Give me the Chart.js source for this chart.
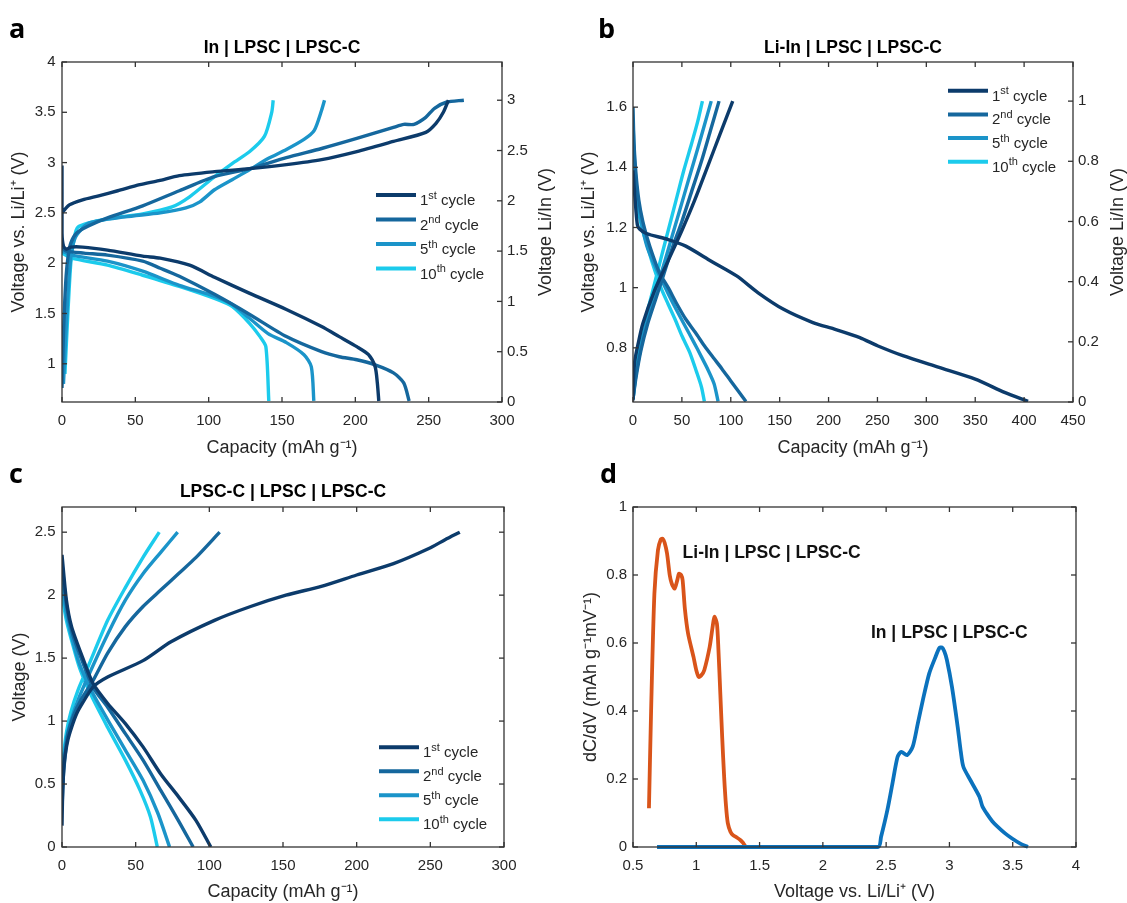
<!DOCTYPE html>
<html>
<head>
<meta charset="utf-8">
<script src="https://cdn.jsdelivr.net/npm/chart.js@4/dist/chart.umd.min.js"></script>
<style>
  body { margin: 0; background: #fff; width: 1127px; height: 903px; position: relative; overflow: hidden; }
  canvas { position: absolute; }
</style>
</head>
<body>
<canvas id="pa" width="563" height="460" style="left:0;top:0"></canvas>
<canvas id="pb" width="564" height="460" style="left:563px;top:0"></canvas>
<canvas id="pc" width="563" height="443" style="left:0;top:460px"></canvas>
<canvas id="pd" width="564" height="443" style="left:563px;top:460px"></canvas>
<script>
// ---- data (capacity mAh/g, voltage V) ----
// panel a : In | LPSC | LPSC-C
var aCh1 = [[0,2.50],[5,2.58],[14,2.63],[25,2.67],[38,2.72],[53,2.78],[66,2.82],[80,2.87],[104,2.91],[128,2.94],[153,2.98],[177,3.03],[201,3.11],[226,3.21],[248,3.30],[255,3.39],[260,3.50],[263.5,3.62]];
var aDis1 = [[0,2.97],[0,2.3],[1,2.17],[3,2.14],[6,2.16],[14,2.16],[31,2.13],[55,2.07],[67,2.05],[87,1.98],[104,1.86],[128,1.70],[153,1.54],[177,1.37],[189,1.27],[201,1.17],[209,1.09],[213.5,0.97],[215,0.81],[216,0.63]];
var aCh2 = [[0,0.76],[1,1.3],[2.5,1.8],[4,2.05],[6,2.2],[10,2.3],[18,2.37],[31,2.45],[55,2.57],[80,2.72],[104,2.86],[128,2.94],[153,3.05],[177,3.14],[201,3.24],[226,3.35],[233,3.38],[240,3.38],[248,3.45],[254,3.54],[262,3.60],[274,3.62]];
var aDis2 = [[0,2.15],[3,2.12],[15,2.10],[31,2.08],[55,2.02],[67,1.95],[80,1.87],[104,1.69],[128,1.49],[153,1.27],[177,1.12],[189,1.07],[201,1.04],[213.5,0.99],[226,0.91],[233,0.81],[236.7,0.63]];
var aCh5 = [[1,0.8],[3,1.4],[5,1.9],[7,2.15],[10,2.28],[18.7,2.40],[43,2.46],[67,2.50],[84.5,2.55],[94,2.61],[104,2.73],[116,2.83],[128,2.93],[140.5,3.04],[153,3.13],[165,3.23],[172,3.32],[177,3.52],[179,3.62]];
var aDis5 = [[0,2.12],[6.6,2.08],[31,2.02],[55,1.92],[80,1.78],[104,1.67],[116,1.59],[128,1.45],[140.5,1.30],[153,1.21],[165,1.09],[170,0.97],[171.7,0.63]];
var aCh10 = [[2,0.9],[4,1.5],[6,2.0],[8,2.22],[11,2.36],[31,2.44],[55,2.49],[75,2.56],[87,2.66],[104,2.86],[116,2.99],[128,3.11],[138,3.26],[143,3.50],[144,3.62]];
var aDis10 = [[0,2.10],[6.6,2.05],[31,1.98],[55,1.88],[80,1.77],[104,1.65],[116,1.57],[128,1.40],[135,1.27],[139,1.17],[141,0.63]];

// panel b : Li-In | LPSC | LPSC-C
var bCh1 = [[0,0.625],[0.5,0.70],[2,0.76],[5,0.81],[10,0.88],[22,0.99],[36,1.09],[50,1.19],[63,1.29],[76,1.40],[89,1.51],[102,1.62]];
var bDis1 = [[0,1.39],[2,1.30],[4.4,1.21],[6.7,1.195],[13.7,1.18],[36,1.16],[54,1.138],[80,1.088],[106,1.039],[128,0.983],[154,0.928],[184,0.884],[206,0.862],[232,0.834],[250,0.807],[276,0.774],[313,0.735],[350,0.696],[380,0.652],[404,0.622]];
var bCh2 = [[0,0.63],[3,0.70],[8,0.79],[15,0.88],[23,0.96],[31,1.04],[40,1.13],[50,1.22],[60,1.32],[70,1.42],[79,1.52],[88,1.62]];
var bDis2 = [[0,1.6],[1,1.48],[3,1.38],[6,1.29],[10,1.22],[15,1.16],[20,1.11],[27,1.05],[36,1.0],[45,0.945],[54,0.895],[64,0.85],[73,0.807],[82,0.768],[91,0.73],[100,0.69],[108,0.655],[115.5,0.622]];
var bCh5 = [[0,0.63],[3,0.71],[8,0.80],[14,0.89],[22,0.98],[30,1.06],[39,1.16],[48,1.26],[57,1.36],[66,1.46],[73,1.54],[80,1.62]];
var bDis5 = [[0,1.55],[2,1.40],[5,1.29],[9,1.21],[14,1.14],[20,1.09],[28.5,1.03],[36,0.98],[43,0.935],[52,0.88],[62,0.82],[70,0.77],[77,0.725],[83,0.68],[87,0.622]];
var bCh10 = [[0,0.63],[3,0.72],[8,0.82],[14,0.91],[21,1.00],[28,1.09],[36,1.19],[44,1.29],[52,1.39],[60,1.48],[66,1.55],[71,1.62]];
var bDis10 = [[0,1.5],[2,1.37],[5,1.27],[9,1.2],[13.7,1.15],[20,1.08],[28.5,1.0],[36,0.945],[43,0.895],[50,0.84],[58,0.785],[65,0.72],[70,0.67],[73,0.622]];

// panel c : LPSC-C | LPSC | LPSC-C
var cCh1 = [[0,0.17],[0.5,0.45],[1.7,0.69],[4,0.85],[6.5,0.95],[10,1.06],[13.8,1.14],[21,1.27],[31,1.35],[55,1.48],[74,1.63],[103.5,1.80],[128,1.91],[152,2.0],[176,2.07],[200,2.16],[225,2.25],[249,2.37],[260,2.44],[270,2.5]];
var cDis1 = [[0,2.32],[3,1.96],[6.5,1.75],[13.8,1.51],[21,1.30],[31,1.14],[43,0.98],[55,0.795],[67,0.58],[79,0.40],[91,0.21],[101,0.0]];
var cCh2 = [[0,0.3],[1,0.58],[2.5,0.76],[4,0.9],[8,1.05],[13,1.17],[21,1.32],[31,1.54],[43,1.75],[55,1.91],[67,2.04],[79,2.17],[91,2.30],[107,2.5]];
var cDis2 = [[0,2.25],[3,1.92],[7,1.70],[13,1.50],[21,1.27],[31,1.11],[43,0.90],[55,0.69],[67,0.45],[79,0.21],[89,0]];
var cCh5 = [[0,0.45],[1,0.65],[3,0.86],[6,1.0],[11,1.17],[18.7,1.38],[31,1.69],[43,1.96],[55,2.17],[67,2.34],[78.5,2.5]];
var cDis5 = [[0,2.1],[3,1.85],[7,1.65],[12,1.45],[20,1.24],[31,1.01],[43,0.77],[55,0.53],[65,0.27],[73,0]];
var cCh10 = [[0,0.55],[1,0.72],[3,0.91],[6,1.07],[11,1.25],[18.7,1.46],[31,1.80],[43,2.06],[55,2.30],[66,2.5]];
var cDis10 = [[0,2.0],[3,1.8],[7,1.62],[12,1.42],[20,1.2],[31,0.95],[43,0.69],[53,0.45],[60,0.24],[64.7,0]];

// panel d : dC/dV vs voltage
var dLiIn = [[0.626,0.114],[0.643,0.40],[0.669,0.745],[0.697,0.873],[0.72,0.905],[0.734,0.907],[0.75,0.895],[0.769,0.863],[0.79,0.80],[0.806,0.775],[0.829,0.76],[0.85,0.785],[0.863,0.804],[0.88,0.80],[0.892,0.785],[0.91,0.70],[0.935,0.628],[0.978,0.559],[1.0,0.52],[1.02,0.50],[1.04,0.505],[1.063,0.52],[1.106,0.589],[1.13,0.65],[1.143,0.677],[1.163,0.657],[1.175,0.58],[1.19,0.45],[1.205,0.32],[1.22,0.207],[1.235,0.12],[1.249,0.07],[1.27,0.045],[1.29,0.035],[1.32,0.028],[1.35,0.02],[1.37,0.012],[1.39,0]];
var dIn = [[0.69,0],[2.436,0],[2.46,0.03],[2.51,0.109],[2.55,0.187],[2.59,0.265],[2.62,0.28],[2.665,0.27],[2.71,0.295],[2.75,0.363],[2.79,0.432],[2.84,0.51],[2.89,0.559],[2.92,0.585],[2.94,0.587],[2.96,0.575],[2.98,0.55],[3.02,0.471],[3.065,0.354],[3.09,0.28],[3.11,0.236],[3.165,0.197],[3.237,0.148],[3.26,0.12],[3.294,0.099],[3.34,0.075],[3.38,0.06],[3.44,0.04],[3.495,0.025],[3.56,0.01],[3.62,0]];

// tick labels
var ticksCap300 = [0,50,100,150,200,250,300];
var ticksCap450 = [0,50,100,150,200,250,300,350,400,450];
var ticksA = [1,1.5,2,2.5,3,3.5,4];
var ticksA2 = [0,0.5,1,1.5,2,2.5,3];
var ticksB = [0.8,1,1.2,1.4,1.6];
var ticksB2 = [0,0.2,0.4,0.6,0.8,1];
var ticksC = [0,0.5,1,1.5,2,2.5];
var ticksDx = [0.5,1,1.5,2,2.5,3,3.5,4];
var ticksDy = [0,0.2,0.4,0.6,0.8,1];

var cycleNames = [['1','st'],['2','nd'],['5','th'],['10','th']];
var cycleColors = ['#0c3b6b','#15679d','#1b94c9','#1ccbec'];
var FONT = '"Liberation Sans", Arial, Helvetica, sans-serif';
var TXT = '#262626';

function pts(arr) { return arr.map(function(p){ return {x:p[0], y:p[1]}; }); }
function joined() {
  var out = [];
  for (var i = 0; i < arguments.length; i++) {
    if (i > 0) out.push({x:null, y:null});
    out = out.concat(pts(arguments[i]));
  }
  return out;
}
function fmt(v) { return String(+(+v).toFixed(2)); }

// frame, inward ticks, legend, right title, panel letter, notes
var decor = {
  id: 'decor',
  afterDraw: function(chart, args, o) {
    var ctx = chart.ctx, ca = chart.chartArea, tl = 5;
    ctx.save();
    ctx.strokeStyle = '#333';
    ctx.lineWidth = 1.3;
    function seg(x1,y1,x2,y2){ ctx.beginPath(); ctx.moveTo(x1,y1); ctx.lineTo(x2,y2); ctx.stroke(); }
    ctx.strokeRect(ca.left, ca.top, ca.right-ca.left, ca.bottom-ca.top);
    var xs = chart.scales.x, ys = chart.scales.y, y2 = chart.scales.y2;
    xs.ticks.forEach(function(t){ var p = xs.getPixelForValue(t.value); seg(p,ca.bottom,p,ca.bottom-tl); seg(p,ca.top,p,ca.top+tl); });
    ys.ticks.forEach(function(t){ var p = ys.getPixelForValue(t.value); seg(ca.left,p,ca.left+tl,p); if(!y2) seg(ca.right,p,ca.right-tl,p); });
    if (y2) y2.ticks.forEach(function(t){ var p = y2.getPixelForValue(t.value); seg(ca.right,p,ca.right-tl,p); });

    if (o.rightTitle) {
      ctx.save();
      ctx.translate(o.rightTitle.x, (ca.top+ca.bottom)/2);
      ctx.rotate(-Math.PI/2);
      ctx.font = '18px ' + FONT; ctx.fillStyle = TXT;
      ctx.textAlign = 'center'; ctx.textBaseline = 'middle';
      ctx.fillText(o.rightTitle.text, 0, 0);
      ctx.restore();
    }
    if (o.letter) {
      ctx.font = 'bold 27px "Open Sans", ' + FONT; ctx.fillStyle = '#000';
      ctx.textAlign = 'left'; ctx.textBaseline = 'alphabetic';
      ctx.fillText(o.letter.text, o.letter.x, o.letter.y);
    }
    if (o.legend) {
      var L = o.legend;
      chart.data.datasets.forEach(function(ds, i){
        var y = L.y + i*L.dy;
        ctx.strokeStyle = ds.borderColor; ctx.lineWidth = 4;
        seg(L.x, y, L.x+L.len, y);
        var parts = cycleNames[i], tx = L.x + L.len + 4, ty = y + 10;
        ctx.fillStyle = TXT; ctx.textAlign = 'left'; ctx.textBaseline = 'alphabetic';
        ctx.font = '15px ' + FONT;
        ctx.fillText(parts[0], tx, ty); tx += ctx.measureText(parts[0]).width;
        ctx.font = '11px ' + FONT;
        ctx.fillText(parts[1], tx, ty-6.5); tx += ctx.measureText(parts[1]).width;
        ctx.font = '15px ' + FONT;
        ctx.fillText(' cycle', tx, ty);
      });
    }
    if (o.notes) {
      ctx.font = 'bold 17.5px ' + FONT; ctx.fillStyle = '#111';
      ctx.textAlign = 'left'; ctx.textBaseline = 'middle';
      o.notes.forEach(function(n){ ctx.fillText(n.text, xs.getPixelForValue(n.x), ys.getPixelForValue(n.y)); });
    }
    ctx.restore();
  }
};

function axis(opts) {
  var s = {
    type: 'linear', position: opts.position, min: opts.min, max: opts.max,
    grid: { display: false, drawTicks: false }, border: { display: false },
    afterBuildTicks: function(sc){ sc.ticks = opts.ticks.map(function(v){ return {value:v}; }); },
    ticks: { font: { family: FONT, size: 15 }, color: TXT, padding: opts.pad, callback: fmt },
    title: { display: !!opts.title, text: opts.title, font: { family: FONT, size: 18 }, color: TXT, padding: opts.titlePad || {top:4,bottom:4} }
  };
  if (opts.w !== undefined) s.afterFit = function(sc){ sc.width = opts.w; };
  if (opts.h !== undefined) s.afterFit = function(sc){ sc.height = opts.h; };
  return s;
}

function cycleSets(list, width) {
  return list.map(function(d, i){
    return { data: d, borderColor: cycleColors[i], borderWidth: width, pointRadius: 0, tension: 0.25, spanGaps: false, fill: false };
  });
}

function make(id, cfg) {
  return new Chart(document.getElementById(id), {
    type: 'line',
    data: { datasets: cfg.datasets },
    options: {
      responsive: false, animation: false, events: [],
      layout: { padding: cfg.padding },
      plugins: { legend: { display: false }, tooltip: { enabled: false }, title: cfg.title || { display: false }, decor: cfg.decor },
      scales: cfg.scales
    },
    plugins: [decor]
  });
}

function titleCfg(text, top, bottom) {
  return { display: true, text: text, fullSize: false, position: 'top', color: '#000',
    font: { family: FONT, size: 17.5, weight: 'bold' }, padding: { top: top, bottom: bottom } };
}

// panel a
make('pa', {
  datasets: cycleSets([joined(aCh1, aDis1), joined(aCh2, aDis2), joined(aCh5, aDis5), joined(aCh10, aDis10)], 3.4),
  padding: { left: 0, right: 0, top: 0, bottom: 0 },
  title: titleCfg('In | LPSC | LPSC-C', 37.8, 3.2),
  decor: { letter: { text: 'a', x: 9, y: 38 }, rightTitle: { text: 'Voltage Li/In (V)', x: 546 }, legend: { x: 376, y: 195, dy: 24.5, len: 40 } },
  scales: {
    x: axis({ position: 'bottom', min: 0, max: 300, ticks: ticksCap300, pad: 10, h: 58, title: 'Capacity (mAh g\u207B\u00B9)', titlePad: { top: 0, bottom: 1 } }),
    y: axis({ position: 'left', min: 0.62, max: 4, ticks: ticksA, pad: 6.5, w: 62, title: 'Voltage vs. Li/Li\u207A (V)', titlePad: { top: 7.8, bottom: 0 } }),
    y2: axis({ position: 'right', min: 0, max: 3.38, ticks: ticksA2, pad: 5, w: 61 })
  }
});

// panel b
make('pb', {
  datasets: cycleSets([joined(bCh1, bDis1), joined(bCh2, bDis2), joined(bCh5, bDis5), joined(bCh10, bDis10)], 3.4),
  padding: { left: 0, right: 0, top: 0, bottom: 0 },
  title: titleCfg('Li-In | LPSC | LPSC-C', 37.8, 3.2),
  decor: { letter: { text: 'b', x: 35, y: 38 }, rightTitle: { text: 'Voltage Li/In (V)', x: 555 }, legend: { x: 385, y: 90.7, dy: 23.7, len: 40 } },
  scales: {
    x: axis({ position: 'bottom', min: 0, max: 450, ticks: ticksCap450, pad: 10, h: 58, title: 'Capacity (mAh g\u207B\u00B9)', titlePad: { top: 0, bottom: 1 } }),
    y: axis({ position: 'left', min: 0.62, max: 1.75, ticks: ticksB, pad: 6, w: 70, title: 'Voltage vs. Li/Li\u207A (V)', titlePad: { top: 15.2, bottom: 0 } }),
    y2: axis({ position: 'right', min: 0, max: 1.13, ticks: ticksB2, pad: 5, w: 54 })
  }
});

// panel c
make('pc', {
  datasets: cycleSets([joined(cCh1, cDis1), joined(cCh2, cDis2), joined(cCh5, cDis5), joined(cCh10, cDis10)], 3.4),
  padding: { left: 0, right: 59, top: 0, bottom: 0 },
  title: titleCfg('LPSC-C | LPSC | LPSC-C', 21.5, 4.5),
  decor: { letter: { text: 'c', x: 9, y: 23 }, legend: { x: 379, y: 287.3, dy: 24, len: 40 } },
  scales: {
    x: axis({ position: 'bottom', min: 0, max: 300, ticks: ticksCap300, pad: 10, h: 56, title: 'Capacity (mAh g\u207B\u00B9)', titlePad: { top: 0, bottom: 0 } }),
    y: axis({ position: 'left', min: 0, max: 2.7, ticks: ticksC, pad: 6.5, w: 62, title: 'Voltage (V)', titlePad: { top: 8.8, bottom: 0 } })
  }
});

// panel d
make('pd', {
  datasets: [
    { data: pts(dIn), borderColor: '#0b72bd', borderWidth: 3.8, pointRadius: 0, tension: 0.25, clip: false },
    { data: pts(dLiIn), borderColor: '#d9541a', borderWidth: 3.8, pointRadius: 0, tension: 0.25, clip: false }
  ],
  padding: { left: 0, right: 51, top: 47, bottom: 0 },
  decor: { letter: { text: 'd', x: 37, y: 23 }, notes: [ { text: 'Li-In | LPSC | LPSC-C', x: 0.892, y: 0.863 }, { text: 'In | LPSC | LPSC-C', x: 2.38, y: 0.63 } ] },
  scales: {
    x: axis({ position: 'bottom', min: 0.5, max: 4, ticks: ticksDx, pad: 10, h: 56, title: 'Voltage vs. Li/Li\u207A (V)', titlePad: { top: 0, bottom: 0 } }),
    y: axis({ position: 'left', min: 0, max: 1, ticks: ticksDy, pad: 6, w: 70, title: 'dC/dV (mAh g\u207B\u00B9mV\u207B\u00B9)', titlePad: { top: 17.2, bottom: 0 } })
  }
});
</script>
</body>
</html>
